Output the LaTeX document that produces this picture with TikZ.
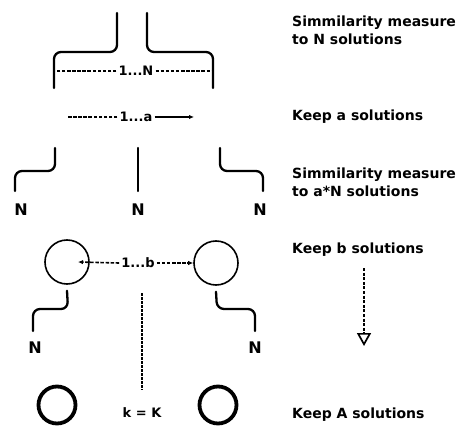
\documentclass[tikz,border=0pt]{standalone}
\usepackage{fontspec}
\setmainfont{DejaVu Sans}
\usetikzlibrary{arrows.meta}
\begin{document}
\begin{tikzpicture}[x=1pt,y=-1pt,
  wire/.style={line width=2.3pt, rounded corners=7pt, line cap=round},
  dashline/.style={line width=1.6pt, dash pattern=on 3.5pt off 1.6pt},
  lbl/.style={font=\bfseries\fontsize{13}{15}\selectfont, inner sep=2pt},
  nlab/.style={font=\bfseries\fontsize{16}{18}\selectfont, inner sep=0pt},
  side/.style={font=\bfseries\fontsize{14}{18}\selectfont, anchor=west, align=left, inner sep=0pt},
  ring/.style={circle, draw, line width=1.6pt, minimum size=44pt, inner sep=0pt},
  thickring/.style={circle, draw, line width=3.8pt, minimum size=37pt, inner sep=0pt},
  tip/.style={-{Latex[length=5pt,width=4.5pt]}}]
\useasboundingbox (0,0) rectangle (457,427);

% right-hand texts
\node[side] (t1) at (292,30) {Simmilarity measure\\to N solutions};
\node[side] (t2) at (292,117) {Keep a solutions};
\node[side] (t3) at (292,182) {Simmilarity measure\\to a*N solutions};
\node[side] (t4) at (292,250) {Keep b solutions};
\node[side] (t5) at (292,415) {Keep A solutions};

% top bracket
\coordinate (tl) at (117,13);
\coordinate (tr) at (147,13);
\coordinate (bl) at (54,88);
\coordinate (br) at (213,88);
\draw[wire] (tl) -- (117,52) -- (54,52) -- (bl);
\draw[wire] (tr) -- (147,52) -- (213,52) -- (br);
\node[lbl] (lN) at (136,71) {1...N};
\coordinate (nl) at (54,71);
\coordinate (nr) at (213,71);
\draw[dashline] (lN.west) -- (nl);
\draw[dashline] (lN.east) -- (nr);

% 1..a
\node[lbl] (la) at (136,117) {1...a};
\coordinate (al) at (68,117);
\coordinate (ar) at (194,117);
\draw[dashline] (la.west) -- (al);
\draw[line width=1.5pt, tip] (la.east) -- (ar);

% row of N
\node[nlab] (n1) at (21,210) {N};
\node[nlab] (n2) at (138,210) {N};
\node[nlab] (n3) at (260,210) {N};
\coordinate (s1) at (55,148);
\coordinate (s2) at (138,148);
\coordinate (s3) at (220,148);
\draw[wire] (s1) -- (55,171) -- (15,171) -- (15,191);
\draw[wire] (s2) -- (138,191);
\draw[wire] (s3) -- (220,171) -- (263,171) -- (263,191);

% circles and 1..b
\node[ring] (c1) at (67,262) {};
\node[ring] (c2) at (216,263) {};
\node[lbl] (lb) at (138,263) {1...b};
\draw[dashline, tip] (lb.west) -- ([xshift=11pt]c1.center);
\draw[dashline, tip] (lb.east) -- (c2.west);

% N below circles
\node[nlab] (n4) at (35,348) {N};
\node[nlab] (n5) at (255,348) {N};
\draw[wire] ([yshift=-6pt]c1.south) -- (68,309) -- (33,309) -- (33,331);
\draw[wire] ([yshift=-6pt]c2.south) -- (217,309) -- (255,309) -- (255,331);

% central dashed line
\coordinate (d1) at (142,293);
\coordinate (d2) at (142,390);
\draw[line width=1.5pt, dash pattern=on 2.5pt off 1.5pt] (d1) -- (d2);

% right dashed arrow
\coordinate (r1) at (364,268);
\coordinate (r2) at (364,346);
\draw[line width=1.5pt, dash pattern=on 3pt off 1.6pt, -{Triangle[open,length=13pt,width=14pt,line width=1.7pt]}] (r1) -- (r2);

% final circles
\node[thickring] (c3) at (57,405) {};
\node[thickring] (c4) at (218,405) {};
\node[lbl] (kK) at (142,413) {k = K};
\end{tikzpicture}
\end{document}
